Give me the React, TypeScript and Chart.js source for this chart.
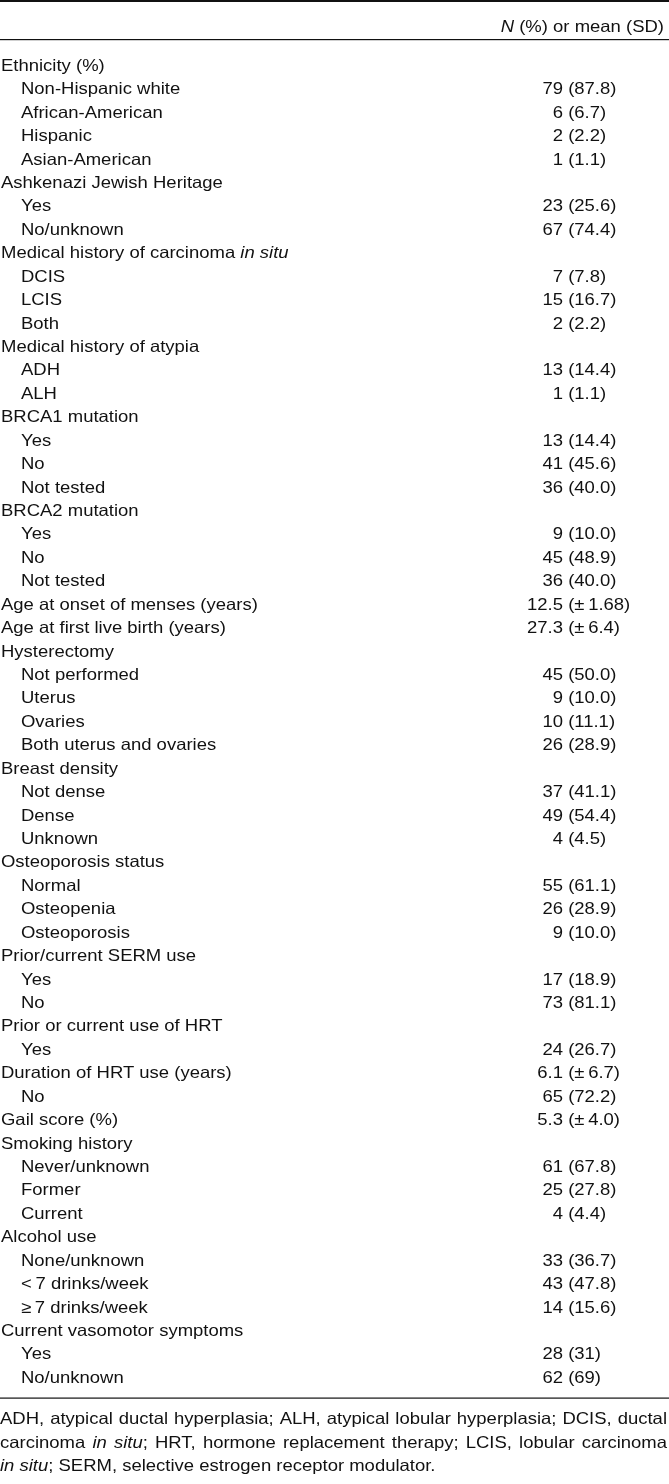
import React, { useEffect, useRef } from 'react';
import { Chart, registerables } from 'chart.js';

Chart.register(...registerables);

// ---------------- data ----------------
const rowLabels: string[] = [
  'Ethnicity (%)',
  'Non-Hispanic white',
  'African-American',
  'Hispanic',
  'Asian-American',
  'Ashkenazi Jewish Heritage',
  'Yes',
  'No/unknown',
  'Medical history of carcinoma *in situ*',
  'DCIS',
  'LCIS',
  'Both',
  'Medical history of atypia',
  'ADH',
  'ALH',
  'BRCA1 mutation',
  'Yes',
  'No',
  'Not tested',
  'BRCA2 mutation',
  'Yes',
  'No',
  'Not tested',
  'Age at onset of menses (years)',
  'Age at first live birth (years)',
  'Hysterectomy',
  'Not performed',
  'Uterus',
  'Ovaries',
  'Both uterus and ovaries',
  'Breast density',
  'Not dense',
  'Dense',
  'Unknown',
  'Osteoporosis status',
  'Normal',
  'Osteopenia',
  'Osteoporosis',
  'Prior/current SERM use',
  'Yes',
  'No',
  'Prior or current use of HRT',
  'Yes',
  'Duration of HRT use (years)',
  'No',
  'Gail score (%)',
  'Smoking history',
  'Never/unknown',
  'Former',
  'Current',
  'Alcohol use',
  'None/unknown',
  '<\u20097 drinks/week',
  '\u2265\u20097 drinks/week',
  'Current vasomotor symptoms',
  'Yes',
  'No/unknown',
];

// 0 = group heading, 1 = indented sub-row
const rowLevel: number[] = [
  0, 1, 1, 1, 1,
  0, 1, 1,
  0, 1, 1, 1,
  0, 1, 1,
  0, 1, 1, 1,
  0, 1, 1, 1,
  0, 0,
  0, 1, 1, 1, 1,
  0, 1, 1, 1,
  0, 1, 1, 1,
  0, 1, 1,
  0, 1, 0, 1,
  0,
  0, 1, 1, 1,
  0, 1, 1, 1,
  0, 1, 1,
];

// N or mean
const valueMain: string[] = [
  '', '79', '6', '2', '1',
  '', '23', '67',
  '', '7', '15', '2',
  '', '13', '1',
  '', '13', '41', '36',
  '', '9', '45', '36',
  '12.5', '27.3',
  '', '45', '9', '10', '26',
  '', '37', '49', '4',
  '', '55', '26', '9',
  '', '17', '73',
  '', '24', '6.1', '65',
  '5.3',
  '', '61', '25', '4',
  '', '33', '43', '14',
  '', '28', '62',
];

// (%) or (SD)
const valueParen: string[] = [
  '', '(87.8)', '(6.7)', '(2.2)', '(1.1)',
  '', '(25.6)', '(74.4)',
  '', '(7.8)', '(16.7)', '(2.2)',
  '', '(14.4)', '(1.1)',
  '', '(14.4)', '(45.6)', '(40.0)',
  '', '(10.0)', '(48.9)', '(40.0)',
  '(\u00b1\u20091.68)', '(\u00b1\u20096.4)',
  '', '(50.0)', '(10.0)', '(11.1)', '(28.9)',
  '', '(41.1)', '(54.4)', '(4.5)',
  '', '(61.1)', '(28.9)', '(10.0)',
  '', '(18.9)', '(81.1)',
  '', '(26.7)', '(\u00b1\u20096.7)', '(72.2)',
  '(\u00b1\u20094.0)',
  '', '(67.8)', '(27.8)', '(4.4)',
  '', '(36.7)', '(47.8)', '(15.6)',
  '', '(31)', '(69)',
];

const headerText = '*N* (%) or mean (SD)';

const footnoteLines: string[] = [
  'ADH, atypical ductal hyperplasia; ALH, atypical lobular hyperplasia; DCIS, ductal',
  'carcinoma *in situ*; HRT, hormone replacement therapy; LCIS, lobular carcinoma',
  '*in situ*; SERM, selective estrogen receptor modulator.',
];

// ---------------- drawing helpers ----------------
const W = 669;
const H = 1484;
const FONT_PX = 16.5;
const SX = 1.12;
const INK = '#111111';

type Seg = { t: string; it: boolean };

function parseSegs(s: string): Seg[] {
  return s
    .split('*')
    .map((t, i) => ({ t, it: i % 2 === 1 }))
    .filter((p) => p.t.length > 0);
}

function fontFor(it: boolean) {
  return `${it ? 'italic ' : ''}${FONT_PX}px "Liberation Sans", Arial, Helvetica, sans-serif`;
}

function segWidth(ctx: CanvasRenderingContext2D, s: Seg) {
  ctx.font = fontFor(s.it);
  return ctx.measureText(s.t).width * SX;
}

function drawSegs(
  ctx: CanvasRenderingContext2D,
  segs: Seg[],
  x: number,
  y: number,
  align: 'left' | 'right'
) {
  const total = segs.reduce((a, s) => a + segWidth(ctx, s), 0);
  let cx = align === 'right' ? x - total : x;
  for (const s of segs) {
    const w = segWidth(ctx, s);
    ctx.save();
    ctx.translate(cx, y);
    ctx.scale(SX, 1);
    ctx.font = fontFor(s.it);
    ctx.textAlign = 'left';
    ctx.textBaseline = 'alphabetic';
    ctx.fillStyle = INK;
    ctx.fillText(s.t, 0, 0);
    ctx.restore();
    cx += w;
  }
}

function drawJustified(
  ctx: CanvasRenderingContext2D,
  line: string,
  x0: number,
  x1: number,
  y: number,
  justify: boolean
) {
  const segs = parseSegs(line);
  const words: Seg[][] = [];
  let cur: Seg[] = [];
  for (const s of segs) {
    const pieces = s.t.split(' ');
    pieces.forEach((p, k) => {
      if (k > 0) {
        words.push(cur);
        cur = [];
      }
      if (p) cur.push({ t: p, it: s.it });
    });
  }
  words.push(cur);
  const ws = words.filter((w) => w.length > 0);
  const widths = ws.map((w) => w.reduce((a, s) => a + segWidth(ctx, s), 0));
  const sum = widths.reduce((a, b) => a + b, 0);
  const spaceW = segWidth(ctx, { t: ' ', it: false });
  const gap = justify && ws.length > 1 ? (x1 - x0 - sum) / (ws.length - 1) : spaceW;
  let cx = x0;
  ws.forEach((w, i) => {
    drawSegs(ctx, w, cx, y, 'left');
    cx += widths[i] + gap;
  });
}

const tablePlugin = {
  id: 'tableText',
  afterDraw(chart: any) {
    const { ctx, scales } = chart;
    const xs = scales.x;
    const ys = scales.y;
    const capHalf = 0.716 * FONT_PX * 0.5;
    ctx.save();
    ctx.fillStyle = INK;

    // rules
    ctx.fillRect(xs.getPixelForValue(0), 0, W, 2);
    ctx.fillRect(xs.getPixelForValue(0), 39, W, 1.2);
    ctx.fillRect(xs.getPixelForValue(0), 1397.5, W, 1.2);

    // header
    drawSegs(ctx, parseSegs(headerText), xs.getPixelForValue(664), 31.5, 'right');

    // body rows
    const labelX = [xs.getPixelForValue(1), xs.getPixelForValue(21)];
    const numRight = xs.getPixelForValue(563);
    rowLabels.forEach((lab, i) => {
      const yc = ys.getPixelForValue(i);
      const base = yc + capHalf;
      drawSegs(ctx, parseSegs(lab), labelX[rowLevel[i]], base, 'left');
      if (valueMain[i]) {
        drawSegs(ctx, [{ t: valueMain[i], it: false }], numRight, base, 'right');
        drawSegs(ctx, [{ t: ' ' + valueParen[i], it: false }], numRight, base, 'left');
      }
    });

    // footnote
    const fnBase = [1424, 1447.5, 1471];
    footnoteLines.forEach((ln, i) => {
      drawJustified(
        ctx,
        ln,
        xs.getPixelForValue(0),
        xs.getPixelForValue(667),
        fnBase[i],
        i < footnoteLines.length - 1
      );
    });
    ctx.restore();
  },
};

export default function App() {
  const ref = useRef<HTMLCanvasElement | null>(null);

  useEffect(() => {
    document.body.style.margin = '0';
    document.body.style.background = '#ffffff';
    const canvas = ref.current;
    if (!canvas) return;
    const chart = new Chart(canvas, {
      type: 'scatter',
      data: {
        labels: rowLabels,
        datasets: [{ data: [], pointRadius: 0 }],
      },
      options: {
        animation: false,
        responsive: false,
        devicePixelRatio: 1,
        layout: { padding: { top: 65, bottom: H - 1377, left: 0, right: 0 } },
        plugins: {
          legend: { display: false },
          tooltip: { enabled: false },
          title: { display: false },
        },
        scales: {
          x: { type: 'linear', display: false, min: 0, max: W },
          y: {
            type: 'category',
            labels: rowLabels,
            display: false,
            offset: false,
          },
        },
      },
      plugins: [tablePlugin],
    } as any);
    return () => chart.destroy();
  }, []);

  return (
    <div style={{ width: W, height: H, background: '#ffffff' }}>
      <canvas ref={ref} width={W} height={H} style={{ display: 'block', width: W, height: H }} />
    </div>
  );
}
